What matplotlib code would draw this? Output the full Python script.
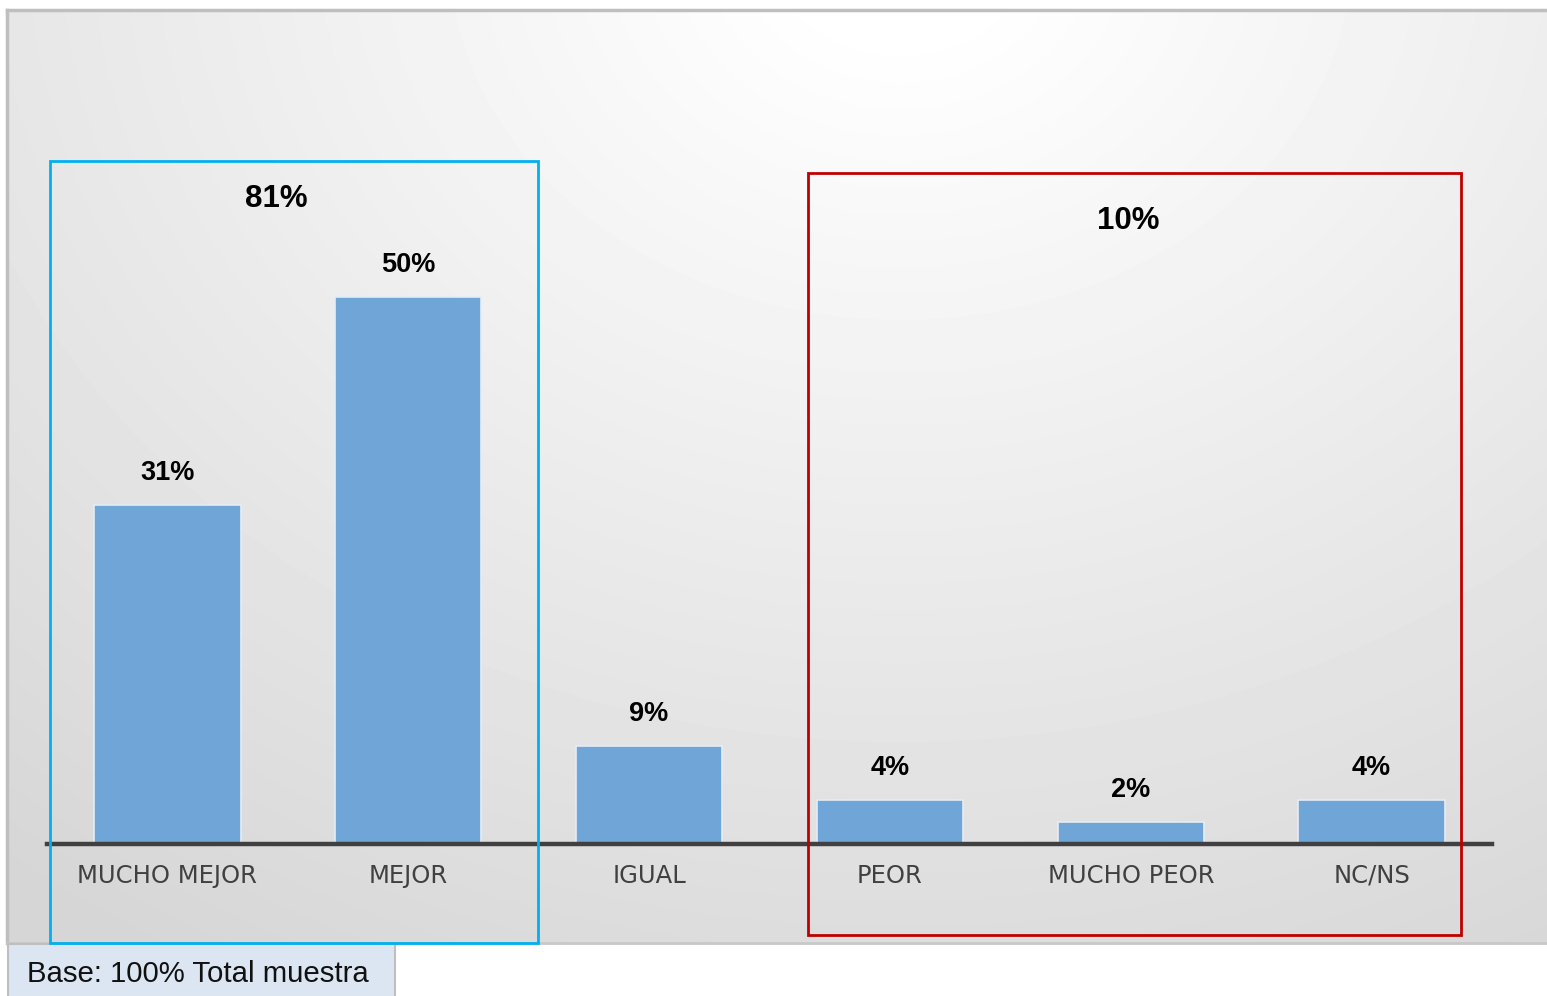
import numpy as np
import matplotlib.pyplot as plt
from matplotlib.patches import Rectangle

# Datos del gráfico
categorias = ["MUCHO MEJOR", "MEJOR", "IGUAL", "PEOR", "MUCHO PEOR", "NC/NS"]
valores = [31, 50, 9, 4, 2, 4]
etiquetas = ["31%", "50%", "9%", "4%", "2%", "4%"]
total_mejor = "81%"
total_peor = "10%"
nota_base = "Base: 100% Total muestra"

W, H = 1547, 996
fig = plt.figure(figsize=(W / 100, H / 100), dpi=100)
fig.patch.set_facecolor("white")

# Fondo con degradado radial (en píxeles)
bg = fig.add_axes([0, 0, 1, 1])
bg.set_xlim(0, W)
bg.set_ylim(H, 0)
bg.axis("off")
xx, yy = np.meshgrid(np.arange(7, W), np.arange(10, 943))
r = np.sqrt(((xx - 900) / 1100.0) ** 2 + ((yy + 50) / 900.0) ** 2)
gris = np.clip(258 - 34 * r, 214, 255) / 255.0
bg.imshow(gris, cmap="gray", vmin=0, vmax=1, extent=[7, W, 943, 10],
          aspect="auto", interpolation="bilinear", zorder=0)
bg.plot([7, W], [10, 10], color="#bfbfbf", lw=2.5, zorder=1)
bg.plot([7, 7], [10, 943], color="#bfbfbf", lw=2.5, zorder=1)
bg.plot([7, W], [943, 943], color="#c8c8c8", lw=2, zorder=1)
bg.add_patch(Rectangle((8, 944), 387, 60, facecolor="#dce6f2",
                       edgecolor="#bfbfbf", lw=1.5, zorder=2))
bg.text(27, 974, nota_base, fontsize=21.2, family="Liberation Sans",
        color="#111111", va="center", ha="left", zorder=3)

# Gráfico de barras
ax = fig.add_axes([47 / W, (H - 844) / H, 1445 / W, 766 / H])
ax.patch.set_alpha(0)
x = np.arange(len(categorias))
ax.bar(x, valores, width=0.607, color="#6fa5d7", edgecolor="#e4edf6",
       linewidth=1.2, zorder=2)
ax.set_xlim(-0.5, 5.5)
ax.set_ylim(0, 70)
ax.axis("off")
ax.axhline(0, color="#404040", lw=3.2, zorder=3, clip_on=False)

for xi, v, et in zip(x, valores, etiquetas):
    ax.text(xi, v + 2.9, et, ha="center", va="center", fontsize=19.5,
            fontweight="bold", family="Liberation Sans", color="black")
for xi, c in zip(x, categorias):
    ax.text(xi, -2.9, c, ha="center", va="center", fontsize=17.5,
            family="DejaVu Sans", color="#404040")

# Recuadros de agrupación
ax.add_patch(Rectangle((-0.486, -9.05), 2.024, 71.45, fill=False,
                       edgecolor="#00b0f0", lw=2, clip_on=False, zorder=4))
ax.add_patch(Rectangle((2.66, -8.3), 2.71, 69.6, fill=False,
                       edgecolor="#c00000", lw=2, clip_on=False, zorder=4))
ax.text(0.453, 58.9, total_mejor, ha="center", va="center", fontsize=22.5,
        fontweight="bold", family="Liberation Sans", color="black")
ax.text(3.99, 56.9, total_peor, ha="center", va="center", fontsize=22.5,
        fontweight="bold", family="Liberation Sans", color="black")

fig.savefig("out.png", dpi=100)
